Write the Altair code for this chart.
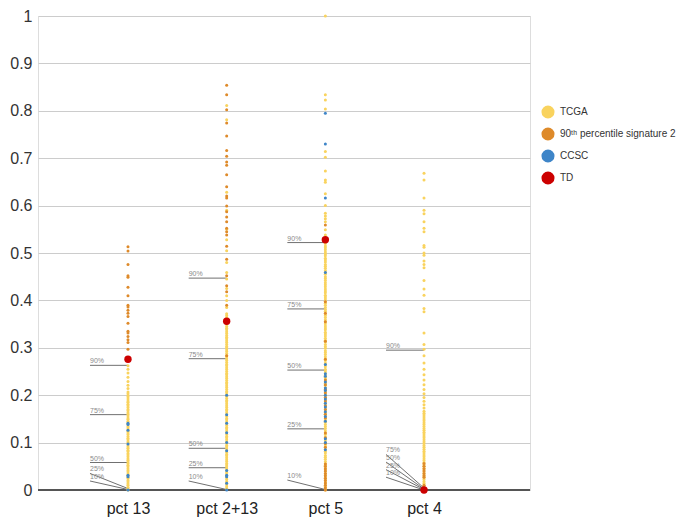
import altair as alt
import pandas as pd

# ---------------- data ----------------
columns = ["pct 13", "pct 2+13", "pct 5", "pct 4"]
series_names = ["TCGA", "90ᵗʰ percentile signature 2", "CCSC", "TD"]
series_colors = ["#F9D35E", "#DE8A2A", "#3E85C8", "#CC0000"]

tcga = {
    "pct 13": [0.262, 0.255, 0.247, 0.238, 0.229, 0.221, 0.214, 0.207, 0.203, 0.199, 0.196, 0.192, 0.188,
               0.185, 0.181, 0.178, 0.174, 0.170, 0.167, 0.163, 0.160, 0.156, 0.152, 0.149, 0.145, 0.142,
               0.138, 0.134, 0.131, 0.127, 0.124, 0.120, 0.117, 0.113, 0.109, 0.106, 0.102, 0.099, 0.095,
               0.091, 0.088, 0.084, 0.081, 0.077, 0.074, 0.070, 0.066, 0.063, 0.059, 0.056, 0.052, 0.049,
               0.045, 0.041, 0.038, 0.034, 0.031, 0.027, 0.024, 0.020, 0.017, 0.013, 0.010, 0.006, 0.003, 0.0],
    "pct 2+13": [0.811, 0.781, 0.628, 0.590, 0.550, 0.528, 0.505, 0.480, 0.459, 0.445, 0.425, 0.410, 0.400,
                 0.385, 0.372, 0.368, 0.364, 0.360, 0.357, 0.353, 0.349, 0.345, 0.341, 0.338, 0.334, 0.330,
                 0.326, 0.322, 0.319, 0.315, 0.311, 0.307, 0.303, 0.300, 0.296, 0.292, 0.288, 0.284, 0.281,
                 0.277, 0.273, 0.269, 0.265, 0.262, 0.258, 0.254, 0.250, 0.246, 0.243, 0.239, 0.235, 0.231,
                 0.227, 0.224, 0.220, 0.216, 0.212, 0.208, 0.205, 0.201, 0.197, 0.193, 0.189, 0.186, 0.182,
                 0.178, 0.174, 0.170, 0.167, 0.163, 0.159, 0.155, 0.151, 0.148, 0.144, 0.140, 0.136, 0.132,
                 0.129, 0.125, 0.121, 0.117, 0.113, 0.110, 0.106, 0.102, 0.098, 0.094, 0.091, 0.087, 0.083,
                 0.079, 0.075, 0.072, 0.068, 0.064, 0.060, 0.056, 0.053, 0.049, 0.045, 0.041, 0.037, 0.034,
                 0.030, 0.026, 0.022, 0.018, 0.015, 0.011, 0.007, 0.003],
    "pct 5": [1.0, 0.834, 0.823, 0.804, 0.714, 0.702, 0.673, 0.654, 0.649, 0.625, 0.600, 0.584, 0.578, 0.572,
              0.566, 0.549, 0.538, 0.520, 0.515, 0.511, 0.507, 0.502, 0.498, 0.494, 0.489, 0.485, 0.481,
              0.476, 0.472, 0.468, 0.463, 0.459, 0.455, 0.450, 0.446, 0.442, 0.437, 0.433, 0.429, 0.424,
              0.420, 0.416, 0.411, 0.407, 0.403, 0.398, 0.394, 0.390, 0.385, 0.381, 0.377, 0.372, 0.368,
              0.364, 0.359, 0.355, 0.351, 0.346, 0.342, 0.338, 0.333, 0.329, 0.325, 0.320, 0.316, 0.312,
              0.307, 0.303, 0.299, 0.294, 0.290, 0.286, 0.281, 0.277, 0.273, 0.268, 0.264, 0.260, 0.255,
              0.251, 0.247, 0.242, 0.238, 0.234, 0.229, 0.225, 0.221, 0.216, 0.212, 0.208, 0.203, 0.199,
              0.195, 0.190, 0.186, 0.182, 0.177, 0.173, 0.169, 0.164, 0.160, 0.156, 0.151, 0.147, 0.143,
              0.138, 0.134, 0.130, 0.125, 0.121, 0.117, 0.112, 0.108, 0.104, 0.099, 0.095, 0.091, 0.086,
              0.082, 0.078, 0.073, 0.069, 0.065, 0.060, 0.056, 0.052, 0.047, 0.043, 0.039, 0.034, 0.030,
              0.026, 0.021, 0.017, 0.013, 0.008, 0.004, 0.000],
    "pct 4": [0.668, 0.654, 0.616, 0.590, 0.583, 0.566, 0.552, 0.545, 0.516, 0.512, 0.500, 0.495, 0.483,
              0.476, 0.469, 0.442, 0.424, 0.411, 0.383, 0.376, 0.331, 0.307, 0.297, 0.283, 0.268, 0.255,
              0.243, 0.232, 0.222, 0.212, 0.203, 0.195, 0.187, 0.180, 0.173, 0.166, 0.162, 0.158, 0.154,
              0.150, 0.146, 0.142, 0.138, 0.134, 0.130, 0.126, 0.122, 0.118, 0.114, 0.110, 0.106, 0.102,
              0.098, 0.094, 0.090, 0.086, 0.082, 0.078, 0.074, 0.070, 0.066, 0.062, 0.058, 0.054, 0.050,
              0.046, 0.042, 0.038, 0.034, 0.030, 0.026, 0.022, 0.018, 0.014, 0.010, 0.006, 0.002],
}

sig2 = {
    "pct 13": [0.513, 0.504, 0.476, 0.452, 0.449, 0.428, 0.410, 0.390, 0.386, 0.379, 0.373, 0.366, 0.352,
               0.335, 0.331, 0.324, 0.317, 0.311, 0.297],
    "pct 2+13": [0.854, 0.834, 0.802, 0.774, 0.747, 0.716, 0.704, 0.692, 0.685, 0.665, 0.640, 0.620, 0.616,
                 0.599, 0.587, 0.576, 0.566, 0.552, 0.545, 0.538, 0.514, 0.487, 0.452, 0.431, 0.418, 0.390,
                 0.283],
    "pct 5": [0.559, 0.397, 0.373, 0.355, 0.314, 0.276, 0.232, 0.222, 0.212, 0.205, 0.195, 0.188, 0.178,
              0.170, 0.160, 0.152, 0.120, 0.110, 0.098, 0.090, 0.055, 0.050, 0.045, 0.040, 0.035, 0.030,
              0.025, 0.020, 0.015, 0.010, 0.005, 0.0],
    "pct 4": [0.056, 0.050, 0.045, 0.040, 0.035, 0.030, 0.027, 0.010, 0.005],
}

ccsc = {
    "pct 13": [0.141, 0.138, 0.126, 0.097, 0.031, 0.028, 0.0],
    "pct 2+13": [0.200, 0.159, 0.141, 0.121, 0.100, 0.083, 0.041, 0.031, 0.028, 0.014, 0.0],
    "pct 5": [0.795, 0.730, 0.616, 0.459, 0.265, 0.245, 0.240, 0.228, 0.215, 0.210, 0.200, 0.192, 0.183,
              0.175, 0.165, 0.155, 0.145, 0.108, 0.100, 0.085],
    "pct 4": [],
}

td = {"pct 13": 0.276, "pct 2+13": 0.356, "pct 5": 0.528, "pct 4": 0.0}

pct_labels = ["90%", "75%", "50%", "25%", "10%"]
pct_values = {
    "pct 13": [0.263, 0.159, 0.058, 0.003, 0.001],
    "pct 2+13": [0.447, 0.277, 0.088, 0.047, 0.001],
    "pct 5": [0.522, 0.382, 0.253, 0.129, 0.001],
    "pct 4": [0.295, 0.004, 0.002, 0.001, 0.0],
}
pct_label_y = {
    "pct 13": [0.263, 0.159, 0.058, 0.035, 0.019],
    "pct 2+13": [0.447, 0.277, 0.088, 0.047, 0.019],
    "pct 5": [0.522, 0.382, 0.253, 0.129, 0.021],
    "pct 4": [0.295, 0.075, 0.059, 0.043, 0.027],
}

# ---------------- tables ----------------
rows = []
for series, src in [(series_names[0], tcga), (series_names[1], sig2), (series_names[2], ccsc)]:
    for i, c in enumerate(columns):
        for v in src[c]:
            rows.append({"col": i + 1, "value": v, "series": series, "order": series_names.index(series)})
pts = pd.DataFrame(rows)

td_df = pd.DataFrame([{"col": i + 1, "value": td[c], "series": series_names[3]} for i, c in enumerate(columns)])

ann = pd.DataFrame([
    {"col": i + 1, "pct": p, "value": pct_values[c][k], "label_y": pct_label_y[c][k]}
    for i, c in enumerate(columns) for k, p in enumerate(pct_labels)
])

# ---------------- chart ----------------
label_expr = "['', 'pct 13', 'pct 2+13', 'pct 5', 'pct 4'][datum.value]"

x_scale = alt.Scale(domain=[0.088, 5.074], nice=False, zero=False)
y_scale = alt.Scale(domain=[0, 1], nice=False)

color_scale = alt.Scale(domain=series_names, range=series_colors)

x_enc = alt.X("col:Q", scale=x_scale,
              axis=alt.Axis(values=[1, 2, 3, 4], labelExpr=label_expr, grid=False, ticks=False,
                            domain=False, labelFontSize=16, labelColor="#222", labelPadding=10,
                            labelFont="Liberation Sans", title=None))
y_enc = alt.Y("value:Q", scale=y_scale,
              axis=alt.Axis(values=[0, 0.1, 0.2, 0.3, 0.4, 0.5, 0.6, 0.7, 0.8, 0.9, 1.0], format="~g",
                            grid=True, gridColor="#cccccc", gridWidth=1, ticks=False, domain=False,
                            labelFontSize=16, labelColor="#333", labelPadding=6,
                            labelFont="Liberation Sans", title=None))

base_zero = alt.Chart(pd.DataFrame({"z": [0]})).mark_rule(color="#555555", strokeWidth=2).encode(
    y=alt.Y("z:Q", scale=y_scale)
)

ann_lines = alt.Chart(ann).mark_rule(color="#707070", strokeWidth=1, xOffset=-38, x2Offset=0).encode(
    x=alt.X("col:Q", scale=x_scale), x2="col:Q",
    y=alt.Y("label_y:Q", scale=y_scale), y2="value:Q"
)
ann_text = alt.Chart(ann).mark_text(align="left", baseline="bottom", dx=-38, dy=-1, fontSize=7,
                                     color="#8a8a8a", font="Liberation Sans").encode(
    x=alt.X("col:Q", scale=x_scale), y=alt.Y("label_y:Q", scale=y_scale), text="pct:N"
)

points = alt.Chart(pts).mark_circle(size=9, opacity=1).encode(
    x=x_enc, y=y_enc,
    color=alt.Color("series:N", scale=color_scale,
                    legend=alt.Legend(title=None, orient="none", legendX=503, legendY=89,
                                      symbolType="circle", symbolSize=170, symbolStrokeWidth=0,
                                      labelFontSize=10, labelColor="#333", labelFont="Liberation Sans",
                                      labelOffset=5, rowPadding=8, labelLimit=300, padding=0)),
    order=alt.Order("order:Q")
)

td_points = alt.Chart(td_df).mark_circle(size=55, opacity=1).encode(
    x=alt.X("col:Q", scale=x_scale), y=alt.Y("value:Q", scale=y_scale),
    color=alt.Color("series:N", scale=color_scale)
)

chart = alt.layer(base_zero, ann_lines, ann_text, points, td_points).properties(
    width=492, height=474,
    autosize=alt.AutoSizeParams(type="none"),
    padding={"left": 30, "top": 8, "right": 147, "bottom": 28},
).configure_view(stroke=None).configure(background="white")

chart.save("out.html", embed_options={"renderer": "svg", "actions": False})
